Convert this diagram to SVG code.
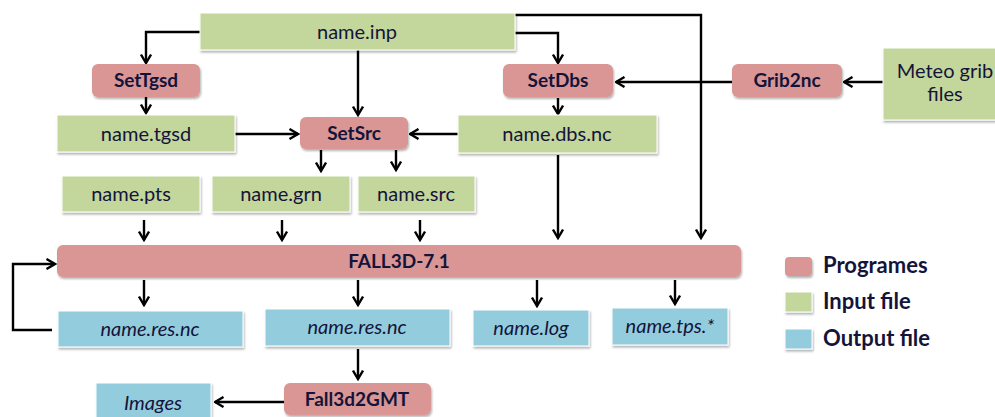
<svg xmlns="http://www.w3.org/2000/svg" width="995" height="417" viewBox="0 0 995 417">
<defs>
<filter id="sh" x="-10%" y="-20%" width="120%" height="160%">
<feDropShadow dx="1" dy="2" stdDeviation="1.2" flood-color="#000" flood-opacity="0.3"/>
</filter>
<marker id="ah" viewBox="0 0 12 12" refX="10.5" refY="6" markerWidth="12" markerHeight="12" markerUnits="userSpaceOnUse" orient="auto">
<path d="M2,1 L10.5,6 L2,11" fill="none" stroke="#000" stroke-width="2.4"/>
</marker>
</defs>
<style>
.prog{fill:#d99694;filter:url(#sh)}
.inp{fill:#c3d69b;stroke:#fff;stroke-width:1;filter:url(#sh)}
.out{fill:#93cddd;stroke:#fff;stroke-width:1;filter:url(#sh)}
text{font-family:Lato,"Liberation Sans",sans-serif;fill:#14143a;text-anchor:middle}
.t{font-size:20px}
.b{font-size:19px;font-weight:bold}
.i{font-size:20px;font-style:italic}
.lg{font-size:22px;font-weight:bold;text-anchor:start}
.c path{fill:none;stroke:#000;stroke-width:2.4;marker-end:url(#ah)}
</style>
<rect width="995" height="417" fill="#fff"/>

<g class="c">
<path d="M200,32 H146 V63"/>
<path d="M146,97 V113"/>
<path d="M358,50 V115"/>
<path d="M235,134 H298"/>
<path d="M458,134 H410"/>
<path d="M321,150 V171"/>
<path d="M396,150 V170"/>
<path d="M515,33 H558 V63"/>
<path d="M515,15 H701 V238"/>
<path d="M732,82 H616"/>
<path d="M883,82 H844"/>
<path d="M558,98 V114"/>
<path d="M558,155 V238"/>
<path d="M144,220 V240"/>
<path d="M282,220 V240"/>
<path d="M420,220 V240"/>
<path d="M144,280 V305"/>
<path d="M358,280 V305"/>
<path d="M537,280 V306"/>
<path d="M675,280 V304"/>
<path d="M52,330 H13 V264 H55"/>
<path d="M358,349 V379"/>
<path d="M284,402 H215"/>
</g>

<g id="name_inp"><rect class="inp" x="200" y="13" width="315" height="37"/><text class="t" x="357" y="39">name.inp</text></g>
<g id="SetTgsd"><rect class="prog" x="92" y="64" width="108" height="33" rx="6"/><text class="b" x="146" y="87">SetTgsd</text></g>
<g id="SetDbs"><rect class="prog" x="503" y="64" width="110" height="33" rx="6"/><text class="b" x="558" y="87">SetDbs</text></g>
<g id="Grib2nc"><rect class="prog" x="732" y="64" width="110" height="33" rx="6"/><text class="b" x="787" y="87">Grib2nc</text></g>
<g id="Meteo"><rect class="inp" x="883" y="48" width="125" height="72"/><text class="t" x="945" y="78">Meteo grib</text><text class="t" x="945" y="101">files</text></g>
<g id="name_tgsd"><rect class="inp" x="57" y="115" width="178" height="37"/><text class="t" x="146" y="141">name.tgsd</text></g>
<g id="SetSrc"><rect class="prog" x="300" y="117" width="108" height="32" rx="6"/><text class="b" x="354" y="140">SetSrc</text></g>
<g id="name_dbs"><rect class="inp" x="458" y="115" width="199" height="38"/><text class="t" x="557" y="141">name.dbs.nc</text></g>
<g id="name_pts"><rect class="inp" x="62" y="176" width="138" height="36"/><text class="t" x="131" y="201">name.pts</text></g>
<g id="name_grn"><rect class="inp" x="212" y="176" width="138" height="36"/><text class="t" x="281" y="201">name.grn</text></g>
<g id="name_src"><rect class="inp" x="358" y="176" width="117" height="36"/><text class="t" x="416" y="201">name.src</text></g>
<g id="FALL3D"><rect class="prog" x="57" y="245" width="684" height="32" rx="6"/><text class="b" x="399" y="268">FALL3D-7.1</text></g>
<g id="res1"><rect class="out" x="58" y="311" width="185" height="36"/><text class="i" x="150" y="336">name.res.nc</text></g>
<g id="res2"><rect class="out" x="265" y="309" width="185" height="37"/><text class="i" x="357" y="334">name.res.nc</text></g>
<g id="log"><rect class="out" x="473" y="310" width="116" height="36"/><text class="i" x="531" y="335">name.log</text></g>
<g id="tps"><rect class="out" x="612" y="308" width="116" height="37"/><text class="i" x="670" y="333">name.tps.*</text></g>
<g id="Fall3d2GMT"><rect class="prog" x="284" y="383" width="147" height="32" rx="6"/><text class="b" x="357" y="406">Fall3d2GMT</text></g>
<g id="Images"><rect class="out" x="96" y="383" width="115" height="40"/><text class="i" x="153" y="410">Images</text></g>

<g id="legend">
<rect class="prog" x="785" y="257" width="27" height="19" rx="4"/><text class="lg" x="823" y="273">Programes</text>
<rect class="inp" x="785" y="292" width="27" height="20"/><text class="lg" x="823" y="309">Input file</text>
<rect class="out" x="785" y="329" width="27" height="20"/><text class="lg" x="823" y="346">Output file</text>
</g>
</svg>
